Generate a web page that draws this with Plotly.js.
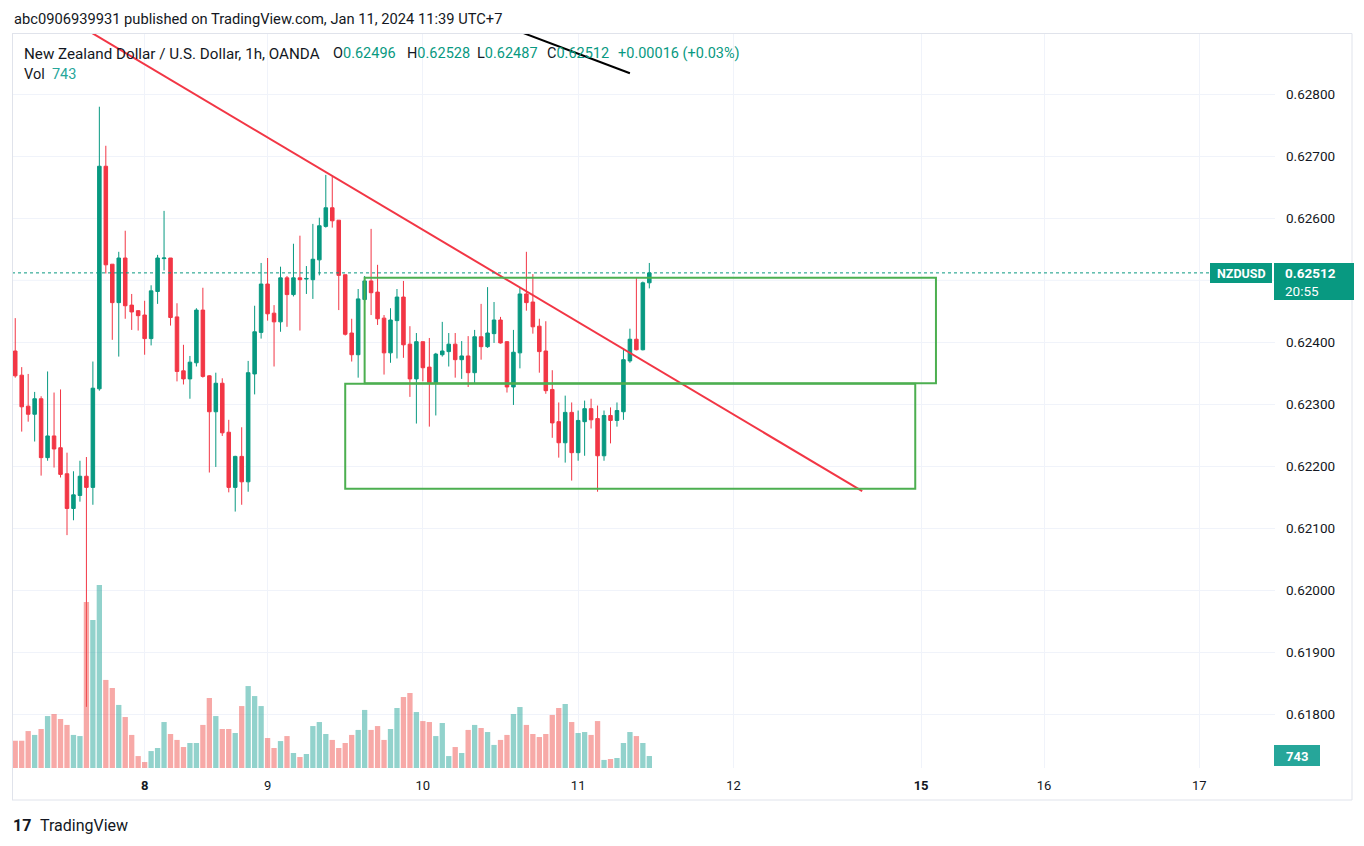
<!DOCTYPE html>
<html><head><meta charset="utf-8">
<script src="https://cdn.plot.ly/plotly-3.0.1.min.js"></script>
<style>html,body{margin:0;padding:0;background:#fff;}#chart{width:1364px;height:846px;}</style>
</head><body><div id="chart"></div>
<script>
// hourly bar index (0 = first bar shown)
const opens = [0.62386,0.62347,0.62297,0.62284,0.62309,0.62214,0.62249,0.62230,0.62188,0.62132,
0.62153,0.62184,0.62166,0.62325,0.62684,0.62526,0.62464,0.62536,0.62460,0.62451,
0.62444,0.62406,0.62482,0.62535,0.62536,0.62441,0.62354,0.62341,0.62367,0.62452,
0.62346,0.62288,0.62334,0.62255,0.62166,0.62216,0.62175,0.62349,0.62416,0.62494,
0.62447,0.62433,0.62504,0.62477,0.62504,0.62502,0.62501,0.62533,0.62587,0.62617,
0.62597,0.62509,0.62415,0.62380,0.62469,0.62499,0.62481,0.62439,0.62383,0.62435,
0.62473,0.62397,0.62341,0.62401,0.62360,0.62335,0.62380,0.62385,0.62397,0.62372,
0.62378,0.62351,0.62409,0.62393,0.62414,0.62436,0.62401,0.62328,0.62383,0.62478,
0.62465,0.62426,0.62386,0.62324,0.62272,0.62238,0.62287,0.62222,0.62272,0.62293,
0.62277,0.62217,0.62282,0.62274,0.62288,0.62370,0.62405,0.62388,0.62496];
const highs = [0.62439,0.62360,0.62349,0.62320,0.62313,0.62353,0.62319,0.62324,0.62222,0.62192,
0.62209,0.62215,0.62369,0.62780,0.62717,0.62526,0.62546,0.62580,0.62478,0.62452,
0.62467,0.62492,0.62541,0.62612,0.62536,0.62463,0.62396,0.62378,0.62455,0.62488,
0.62347,0.62351,0.62342,0.62275,0.62217,0.62263,0.62370,0.62459,0.62528,0.62536,
0.62460,0.62522,0.62507,0.62559,0.62572,0.62523,0.62591,0.62601,0.62670,0.62668,
0.62597,0.62509,0.62438,0.62486,0.62507,0.62583,0.62525,0.62444,0.62455,0.62486,
0.62499,0.62426,0.62415,0.62401,0.62407,0.62383,0.62433,0.62415,0.62415,0.62402,
0.62410,0.62420,0.62462,0.62489,0.62465,0.62441,0.62402,0.62420,0.62489,0.62546,
0.62510,0.62438,0.62434,0.62355,0.62303,0.62314,0.62303,0.62290,0.62306,0.62309,
0.62298,0.62290,0.62295,0.62303,0.62390,0.62422,0.62505,0.62498,0.62528];
const lows = [0.62343,0.62256,0.62272,0.62240,0.62185,0.62209,0.62198,0.62182,0.62089,0.62113,
0.62143,0.61812,0.62138,0.62322,0.62511,0.62404,0.62377,0.62438,0.62420,0.62419,
0.62380,0.62395,0.62462,0.62516,0.62427,0.62337,0.62332,0.62309,0.62361,0.62343,
0.62190,0.62199,0.62249,0.62158,0.62127,0.62138,0.62159,0.62316,0.62406,0.62435,
0.62361,0.62417,0.62425,0.62474,0.62419,0.62478,0.62470,0.62508,0.62585,0.62585,
0.62452,0.62411,0.62369,0.62343,0.62463,0.62444,0.62428,0.62348,0.62367,0.62374,
0.62375,0.62312,0.62269,0.62337,0.62264,0.62282,0.62377,0.62361,0.62343,0.62341,
0.62328,0.62333,0.62372,0.62391,0.62399,0.62398,0.62319,0.62299,0.62358,0.62451,
0.62414,0.62351,0.62317,0.62246,0.62214,0.62206,0.62177,0.62209,0.62217,0.62261,
0.62159,0.62209,0.62237,0.62264,0.62275,0.62367,0.62387,0.62387,0.62487];
const closes = [0.62346,0.62296,0.62284,0.62309,0.62214,0.62249,0.62228,0.62187,0.62132,0.62154,
0.62184,0.62166,0.62326,0.62684,0.62525,0.62464,0.62536,0.62459,0.62449,0.62443,
0.62406,0.62483,0.62536,0.62536,0.62440,0.62353,0.62341,0.62368,0.62452,0.62345,
0.62288,0.62334,0.62254,0.62166,0.62216,0.62175,0.62351,0.62417,0.62494,0.62446,
0.62433,0.62504,0.62477,0.62504,0.62501,0.62503,0.62534,0.62588,0.62617,0.62596,
0.62508,0.62413,0.62380,0.62470,0.62499,0.62480,0.62438,0.62383,0.62436,0.62473,
0.62396,0.62341,0.62401,0.62359,0.62335,0.62381,0.62386,0.62397,0.62372,0.62378,
0.62351,0.62409,0.62393,0.62415,0.62436,0.62399,0.62328,0.62384,0.62478,0.62464,
0.62425,0.62385,0.62322,0.62270,0.62238,0.62287,0.62222,0.62274,0.62293,0.62275,
0.62217,0.62282,0.62274,0.62290,0.62372,0.62405,0.62388,0.62496,0.62512];
const volumes = [1690,1690,2290,2050,2420,3220,3350,3040,2670,2050,
1980,10290,9180,11350,5460,4960,3910,3160,2050,740,
370,1050,1240,2850,2110,1740,1300,1550,1550,2670,
4340,3220,2420,2420,2170,3840,5080,4460,3840,1860,
1240,1670,1980,930,680,870,2600,2850,2110,1740,
1240,1550,2050,2360,3600,2360,2600,1740,2420,3720,
4400,4650,3470,2910,2850,1980,2790,740,1300,930,
2360,2670,2480,2230,1430,1740,2050,3350,3780,2670,
2110,1920,2110,3290,3720,3970,2850,2170,2230,2050,
2910,500,560,620,1550,2230,1980,1550,743];

// day labels: bar index and text
const dayTickIdx = [20, 39, 63, 87, 111, 140, 159, 183];
const dayTickText = ['<b>8</b>','9','10','11','12','<b>15</b>','16','17'];
// price labels shown on the scale (0.62500 is hidden under the last-price label, only its gridline shows)
const priceTicks = [0.618,0.619,0.620,0.621,0.622,0.623,0.624,0.626,0.627,0.628];
const hiddenGridPrice = [0.625];

// drawings
const redTrendIdx = [11.85, 130.9];
const redTrendPrice = [0.62899, 0.62160];
const blackTrendIdx = [78.5, 95.0];
const blackTrendPrice = [0.62899, 0.62834];
const boxUpperIdx = [54.0, 142.3];
const boxUpperPrice = [0.62334, 0.62504];
const boxLowerIdx = [51.0, 139.1];
const boxLowerPrice = [0.62164, 0.62333];

const UP = '#089981', DN = '#f23645';
const GRID = '#f0f3fa';
const idx = opens.map((_, i) => i);
const volColors = opens.map((o, i) => closes[i] >= o ? 'rgba(38,166,154,0.5)' : 'rgba(239,83,80,0.5)');
const last = closes.length - 1;
const lastClose = closes[last];
const lastVol = volumes[last];
const chg = closes[last] - closes[last - 1];

const ML = 12, MR = 89, MT = 34, MB = 78, W = 1364, H = 846;
const PW = W - ML - MR, PH = H - MT - MB;
const px = x => (x - ML) / PW;
const py = y => (H - MB - y) / PH;

const traces = [
  {type:'bar', x: idx, y: volumes, yaxis:'y2', marker:{color: volColors, line:{width:0}}, width:0.82, hoverinfo:'skip', showlegend:false},
  {type:'candlestick', x: idx, open: opens, high: highs, low: lows, close: closes,
   increasing:{line:{color:UP, width:1}, fillcolor:UP},
   decreasing:{line:{color:DN, width:1}, fillcolor:DN},
   whiskerwidth:0, hoverinfo:'skip', showlegend:false},
  {type:'scatter', mode:'lines', x: redTrendIdx, y: redTrendPrice, line:{color:'#f23645', width:2}, hoverinfo:'skip', showlegend:false},
  {type:'scatter', mode:'lines', x: blackTrendIdx, y: blackTrendPrice, line:{color:'#000000', width:2}, hoverinfo:'skip', showlegend:false}
];

const frame = '#e0e3eb';
const boxRect = (x0, x1, y0, y1, c) => ({type:'rect', xref:'paper', yref:'paper', x0: px(x0), x1: px(x1), y0: py(y1), y1: py(y0), fillcolor:c, line:{width:0}, layer:'above'});
const shapes = [
  ...hiddenGridPrice.map(p => ({type:'line', xref:'paper', yref:'y', x0:0, x1:1, y0:p, y1:p, line:{color:GRID, width:1}, layer:'below'})),
  {type:'rect', xref:'x', yref:'y', x0: boxUpperIdx[0], x1: boxUpperIdx[1], y0: boxUpperPrice[0], y1: boxUpperPrice[1], line:{color:'#4caf50', width:2}},
  {type:'rect', xref:'x', yref:'y', x0: boxLowerIdx[0], x1: boxLowerIdx[1], y0: boxLowerPrice[0], y1: boxLowerPrice[1], line:{color:'#4caf50', width:2}},
  {type:'line', xref:'paper', yref:'y', x0: 0, x1: px(1210), y0: lastClose, y1: lastClose, line:{color:UP, width:1, dash:'dot'}},
  {type:'line', xref:'paper', yref:'paper', x0: px(12), x1: px(1352), y0: py(33.5), y1: py(33.5), line:{color:frame, width:1}},
  {type:'line', xref:'paper', yref:'paper', x0: px(12.5), x1: px(12.5), y0: py(33.5), y1: py(800), line:{color:frame, width:1}},
  {type:'line', xref:'paper', yref:'paper', x0: px(1352), x1: px(1352), y0: py(33.5), y1: py(800), line:{color:frame, width:1}},
  {type:'line', xref:'paper', yref:'paper', x0: px(12), x1: px(1352), y0: py(800), y1: py(800), line:{color:frame, width:1}},
  boxRect(1210, 1272, 263, 283, UP),
  boxRect(1274, 1354, 263, 300, UP),
  boxRect(1274, 1320, 745, 766, '#26a69a')
];

const F = 'Roboto, "Liberation Sans", sans-serif';
const txt = (x, y, text, size, color, anchor) => ({xref:'paper', yref:'paper', x: px(x), y: py(y), xanchor: anchor || 'left', yanchor:'middle',
  showarrow:false, text, align:'left', borderpad:0, font:{family:F, size, color}});
const G = s => `<span style="color:${UP}">${s}</span>`;
const annotations = [
  txt(13, 19, 'abc0906939931 published on TradingView.com, Jan 11, 2024 11:39 UTC+7', 14.7, '#131722'),
  txt(23, 54, 'New Zealand Dollar / U.S. Dollar, 1h, OANDA', 15.2, '#131722'),
  txt(332, 54, 'O' + G(opens[last].toFixed(5)), 14.5, '#131722'),
  txt(406, 54, 'H' + G(highs[last].toFixed(5)), 14.5, '#131722'),
  txt(476, 54, 'L' + G(lows[last].toFixed(5)), 14.5, '#131722'),
  txt(546, 54, 'C' + G(closes[last].toFixed(5)), 14.5, '#131722'),
  txt(617, 54, G('+' + chg.toFixed(5) + ' (+' + (chg / closes[last - 1] * 100).toFixed(2) + '%)'), 14.5, '#131722'),
  txt(23, 74, 'Vol  <span style="color:#26a69a">' + lastVol + '</span>', 14.5, '#131722'),
  txt(1241, 273, '<b>NZDUSD</b>', 12.5, '#ffffff', 'center'),
  txt(1284, 282, '<b>' + lastClose.toFixed(5) + '</b><br>20:55', 13.5, '#ffffff'),
  txt(1297, 756, '<b>' + lastVol + '</b>', 13, '#ffffff', 'center'),
  txt(12, 825, '<b>17</b>', 16, '#131722'),
  txt(39, 825, 'TradingView', 16, '#131722')
];

const layout = {
  width: W, height: H,
  margin:{l:ML, r:MR, t:MT, b:MB, pad:0},
  paper_bgcolor:'#ffffff', plot_bgcolor:'#ffffff',
  showlegend:false, boxgap:0.22,
  font:{family:F, color:'#131722'},
  xaxis:{range:[-0.5, 194.7], rangeslider:{visible:false}, tickmode:'array', tickvals: dayTickIdx, ticktext: dayTickText,
         showgrid:true, gridcolor:GRID, gridwidth:1, zeroline:false, showline:false, ticks:'', ticklabelstandoff:8,
         tickfont:{family:F, size:13, color:'#131722'}, fixedrange:true},
  yaxis:{side:'right', range:[0.617134, 0.628973], tickmode:'array', tickvals: priceTicks, tickformat:'.5f',
         showgrid:true, gridcolor:GRID, gridwidth:1, zeroline:false, showline:false, ticks:'', ticklabelstandoff:10,
         tickfont:{family:F, size:13.5, color:'#131722'}},
  yaxis2:{overlaying:'y', range:[0, PH*62], visible:false, showgrid:false},
  shapes, annotations
};

Plotly.newPlot('chart', traces, layout, {staticPlot:true, displayModeBar:false});
</script></body></html>
